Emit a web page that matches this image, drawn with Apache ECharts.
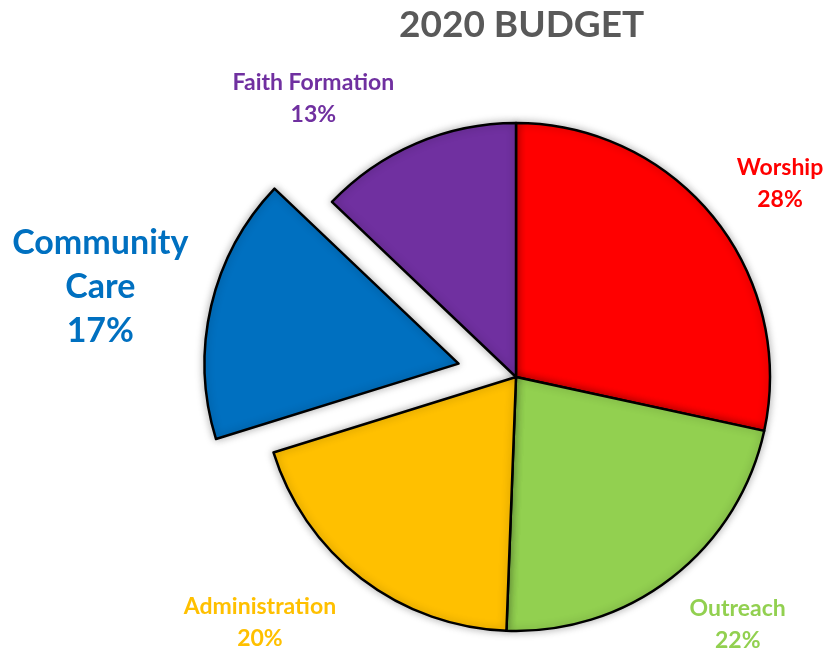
<!DOCTYPE html>
<html><head><meta charset="utf-8">
<script src="https://cdn.jsdelivr.net/npm/echarts@6/dist/echarts.min.js"></script>
<style>html,body{margin:0;padding:0;background:#fff}#c{width:827px;height:652px}</style>
</head><body><div id="c"></div>
<script>
const titleText = '2020 BUDGET';
const categories = ['Worship', 'Outreach', 'Administration', 'Community Care', 'Faith Formation'];
const values = [28.4, 22.2, 19.6, 16.9, 12.9];
const colors = ['#FF0000', '#92D050', '#FFC000', '#0070C0', '#7030A0'];
const labelNames = ['Worship', 'Outreach', 'Administration', 'Community\nCare', 'Faith Formation'];
const explodedIndex = 3;

const labelNudge = [[-1, 16], [12, -16], [-48, -20], [-28, -1], [-66, 29]];
const FONT = 'Lato, "Liberation Sans", sans-serif';

const data = categories.map((c, i) => {
  const big = i === explodedIndex;
  return {
    name: c,
    value: values[i],
    selected: big,
    itemStyle: { color: colors[i] },
    label: {
      color: colors[i],
      fontSize: big ? 34 : 23,
      lineHeight: big ? 44 : 32,
      formatter: labelNames[i] + '\n' + Math.round(values[i]) + '%'
    }
  };
});

const chart = echarts.init(document.getElementById('c'), null, { renderer: 'canvas' });
chart.setOption({
  animation: false,
  title: {
    text: titleText, left: 394, top: 2,
    textStyle: { fontFamily: FONT, fontWeight: 'bold', fontSize: 37, color: '#595959' }
  },
  series: [{
    type: 'pie',
    center: [516, 377],
    radius: 254,
    startAngle: 90,
    clockwise: true,
    selectedMode: 'single',
    selectedOffset: 59,
    avoidLabelOverlap: false,
    itemStyle: { borderColor: '#000', borderWidth: 2.5, shadowBlur: 8, shadowColor: 'rgba(0,0,0,0.3)' },
    emphasis: { disabled: true },
    label: {
      show: true, position: 'outside', fontFamily: FONT, fontWeight: 'bold'
    },
    labelLine: { show: false, length: 80, length2: 0 },
    labelLayout: function (p) {
      const n = labelNudge[p.dataIndex];
      return { align: 'center', verticalAlign: 'middle', dx: n[0], dy: n[1] };
    },
    data: data
  }]
});
</script></body></html>
